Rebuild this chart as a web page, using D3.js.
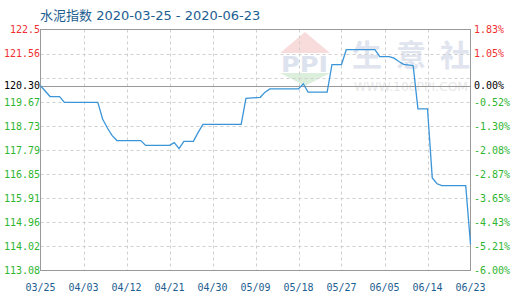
<!DOCTYPE html>
<html>
<head>
<meta charset="utf-8">
<script src="https://cdn.jsdelivr.net/npm/d3@7"></script>
<style>
  body { margin: 0; background: #fff; }
  svg { display: block; }
</style>
</head>
<body>
<div id="chart"></div>
<script>
// Cement index, daily points.
const dates = [
    "2020-03-25", "2020-03-27", "2020-03-29", "2020-03-30", "2020-04-06",
    "2020-04-07", "2020-04-08", "2020-04-09", "2020-04-10", "2020-04-15",
    "2020-04-16", "2020-04-21", "2020-04-22", "2020-04-23", "2020-04-24",
    "2020-04-26", "2020-04-27", "2020-04-28", "2020-05-06", "2020-05-07",
    "2020-05-10", "2020-05-11", "2020-05-12", "2020-05-18", "2020-05-19",
    "2020-05-20", "2020-05-24", "2020-05-25", "2020-05-27", "2020-05-28",
    "2020-06-03", "2020-06-04", "2020-06-06", "2020-06-07", "2020-06-08",
    "2020-06-09", "2020-06-11", "2020-06-12", "2020-06-14", "2020-06-15",
    "2020-06-16", "2020-06-17", "2020-06-22", "2020-06-23"
];
const values = [
    120.30, 119.88, 119.88, 119.65, 119.65,
    119.00, 118.65, 118.35, 118.16, 118.16,
    117.97, 117.97, 118.08, 117.84, 118.13,
    118.13, 118.48, 118.79, 118.79, 119.81,
    119.85, 120.05, 120.18, 120.18, 120.38,
    120.05, 120.05, 121.13, 121.13, 121.71,
    121.71, 121.44, 121.44, 121.38, 121.25,
    121.14, 121.09, 119.40, 119.40, 116.70,
    116.47, 116.40, 116.40, 114.10
];

const baseValue = 120.30;
const leftTicks = [113.08, 114.02, 114.96, 115.91, 116.85, 117.79, 118.73, 119.67, 120.62, 121.56, 122.5];
const leftLabels = ["113.08", "114.02", "114.96", "115.91", "116.85", "117.79", "118.73", "119.67", "", "121.56", "122.5"];
const rightLabels = ["-6.00%", "-5.21%", "-4.43%", "-3.65%", "-2.87%", "-2.08%", "-1.30%", "-0.52%", "", "1.05%", "1.83%"];
const xTickDates = ["2020-03-25", "2020-04-03", "2020-04-12", "2020-04-21", "2020-04-30",
    "2020-05-09", "2020-05-18", "2020-05-27", "2020-06-05", "2020-06-14", "2020-06-23"];
const title = "水泥指数 2020-03-25 - 2020-06-23";

const W = 520, H = 300;
const Plot = { left: 40.5, right: 470.5, top: 29.5, bottom: 270.5 };
const Colors = { up: "#f03030", down: "#2fb52f", flat: "#000", axis: "#9a9a9a", grid: "#cfcfcf",
    line: "#3b95d8", text: "#1d5e91" };
const Mono = "'DejaVu Sans Mono', monospace";

const parse = d3.timeParse("%Y-%m-%d");
const data = dates.map((d, i) => ({ date: parse(d), value: values[i] }));

const x = d3.scaleTime()
    .domain([parse(xTickDates[0]), parse(xTickDates[xTickDates.length - 1])])
    .range([Plot.left, Plot.right]);
const y = d3.scaleLinear()
    .domain([leftTicks[0], leftTicks[leftTicks.length - 1]])
    .range([Plot.bottom, Plot.top]);

const svg = d3.select("#chart").append("svg")
    .attr("width", W)
    .attr("height", H);

svg.append("rect").attr("width", W).attr("height", H).attr("fill", "#fff");

// watermark
const wm = svg.append("g");
wm.append("path")
    .attr("d", "M305,32L330,53L280,53Z")
    .attr("fill", "#f8dcdc");
wm.append("path")
    .attr("d", "M280,73L330,73L305,86Z")
    .attr("fill", "#dcefdc");
wm.append("text")
    .attr("x", 281).attr("y", 72)
    .attr("textLength", 47).attr("lengthAdjust", "spacingAndGlyphs")
    .style("font-family", "'DejaVu Sans', sans-serif")
    .style("font-weight", "bold")
    .style("font-size", "21px")
    .style("fill", "#dde3ee")
    .text("PPI");
wm.append("text")
    .attr("x", 352).attr("y", 66)
    .attr("textLength", 118).attr("lengthAdjust", "spacing")
    .style("font-family", "'Noto Sans CJK SC', sans-serif")
    .style("font-weight", "bold")
    .style("font-size", "30px")
    .style("fill", "#e0e4ee")
    .text("生意社");
wm.append("text")
    .attr("x", 354).attr("y", 91)
    .attr("textLength", 114).attr("lengthAdjust", "spacingAndGlyphs")
    .style("font-family", "'DejaVu Sans', sans-serif")
    .style("font-size", "13px")
    .style("fill", "#e8e8e8")
    .text("WWW.100PPI.COM");

// grid
svg.append("g")
    .selectAll("line")
    .data(leftTicks.slice(1, -1))
    .join("line")
        .attr("x1", Plot.left).attr("x2", Plot.right)
        .attr("y1", d => Math.round(y(d)) + 0.5)
        .attr("y2", d => Math.round(y(d)) + 0.5)
        .attr("stroke", Colors.grid)
        .style("stroke-dasharray", "3,3");
svg.append("g")
    .selectAll("line")
    .data(xTickDates.slice(1, -1))
    .join("line")
        .attr("x1", d => Math.round(x(parse(d))) + 0.5)
        .attr("x2", d => Math.round(x(parse(d))) + 0.5)
        .attr("y1", Plot.top).attr("y2", Plot.bottom)
        .attr("stroke", Colors.grid)
        .style("stroke-dasharray", "3,3");

// border and base line
svg.append("rect")
    .attr("x", Plot.left).attr("y", Plot.top)
    .attr("width", Plot.right - Plot.left)
    .attr("height", Plot.bottom - Plot.top)
    .attr("fill", "none")
    .attr("stroke", Colors.axis);
svg.append("line")
    .attr("x1", Plot.left).attr("x2", Plot.right)
    .attr("y1", Math.round(y(baseValue)) + 0.5)
    .attr("y2", Math.round(y(baseValue)) + 0.5)
    .attr("stroke", Colors.axis);

// series
svg.append("path")
    .datum(data)
    .attr("fill", "none")
    .attr("stroke", Colors.line)
    .attr("stroke-width", 1.3)
    .attr("d", d3.line().x(d => x(d.date)).y(d => y(d.value)));

// axis labels, the one hidden under the base label is skipped
const tickColor = v => v > baseValue ? Colors.up : (v < baseValue ? Colors.down : Colors.flat);
const labelStyle = sel => sel
    .style("font-family", Mono)
    .style("font-size", "10px");

const leftItems = leftTicks.map((v, i) => ({ v, t: leftLabels[i] }))
    .filter(d => d.t !== "")
    .concat([{ v: baseValue, t: "120.30" }]);
const rightItems = leftTicks.map((v, i) => ({ v, t: rightLabels[i] }))
    .filter(d => d.t !== "")
    .concat([{ v: baseValue, t: "0.00%" }]);

svg.append("g")
    .selectAll("text")
    .data(leftItems)
    .join("text")
        .attr("x", 40)
        .attr("y", d => y(d.v))
        .attr("dy", "0.36em")
        .attr("text-anchor", "end")
        .style("fill", d => tickColor(d.v))
        .call(labelStyle)
        .text(d => d.t);

svg.append("g")
    .selectAll("text")
    .data(rightItems)
    .join("text")
        .attr("x", 474)
        .attr("y", d => y(d.v))
        .attr("dy", "0.36em")
        .attr("text-anchor", "start")
        .style("fill", d => tickColor(d.v))
        .call(labelStyle)
        .text(d => d.t);

// x labels
svg.append("g")
    .selectAll("text")
    .data(xTickDates)
    .join("text")
        .attr("x", d => x(parse(d)))
        .attr("y", 290.5)
        .attr("text-anchor", "middle")
        .style("fill", Colors.text)
        .call(labelStyle)
        .text(d => d3.timeFormat("%m/%d")(parse(d)));

// title
svg.append("text")
    .attr("x", 40)
    .attr("y", 19.5)
    .style("font-family", "'DejaVu Sans', 'Noto Sans CJK SC', sans-serif")
    .style("font-size", "13px")
    .style("fill", Colors.text)
    .text(title);
</script>
</body>
</html>
